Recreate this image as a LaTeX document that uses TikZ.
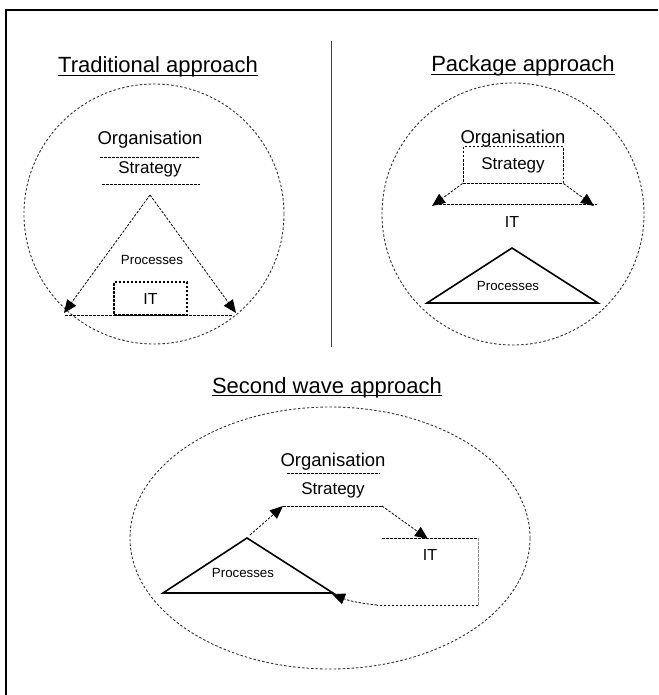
\documentclass[tikz,border=0pt]{standalone}
\usepackage{fontspec}
\setmainfont{Liberation Sans}
\usetikzlibrary{arrows.meta,shapes.geometric}
\begin{document}
\begin{tikzpicture}[x=1pt,y=-1pt,
  title/.style={font=\fontsize{22}{24}\selectfont, inner sep=0pt, anchor=base},
  orgtext/.style={font=\fontsize{18.5}{20}\selectfont, inner sep=1pt},
  strtext/.style={font=\fontsize{17}{19}\selectfont, inner sep=1pt},
  proctext/.style={font=\fontsize{13.3}{15}\selectfont, inner sep=1pt},
  ittext/.style={font=\fontsize{16}{18}\selectfont, inner sep=1pt},
  boundary/.style={draw=black!80, line width=0.9pt, dash pattern=on 2.5pt off 2pt},
  dline/.style={draw=black, line width=0.8pt, dash pattern=on 2.5pt off 1.5pt},
  darrow/.style={dline, -{Triangle[length=13pt,width=11pt]}},
  solidtri/.style={draw=black, line width=1.6pt, line join=miter},
  ulined/.style={draw=black, line width=1pt}
]
\useasboundingbox (0,0) rectangle (658,695);

% frame: top and left rules, divider between the two upper panels
\draw[line width=2pt] (6,695) -- (6,10) -- (658,10);
\draw[line width=1pt, black!75] (331,41) -- (331,347);

% ---------------- Traditional approach ----------------
\node[title] (ttitle) at (158,73) {Traditional approach};
\draw[ulined] ([yshift=-2.5pt]ttitle.base west) -- ([yshift=-2.5pt]ttitle.base east);
\node[circle, boundary, minimum size=260pt, inner sep=0pt] (tcirc) at (154,214) {};
\node[orgtext] (torg) at (150,140) {Organisation};
\draw[dline] (100,157) -- (200,157);
\node[strtext] (tstr) at (150,169) {Strategy};
\draw[dline] (102,184) -- (200,184);
\coordinate (tapex) at (150,195);
\coordinate (tleft) at (64,313);
\coordinate (tright) at (236,313);
\draw[darrow] (tapex) -- (tleft);
\draw[darrow] (tapex) -- (tright);
\draw[dline] (65,315) -- (233,315);
\node[proctext] (tproc) at (152,260) {Processes};
\node[draw=black, line width=1.2pt, dash pattern=on 2.5pt off 1.5pt,
      minimum width=73pt, minimum height=33pt, inner sep=0pt] (tit) at (150.5,298.5) {};
\node[ittext] at (tit) {IT};

% ---------------- Package approach ----------------
\node[title] (ptitle) at (523,72) {Package approach};
\draw[ulined] ([yshift=-2.5pt]ptitle.base west) -- ([yshift=-2.5pt]ptitle.base east);
\node[circle, boundary, minimum size=262pt, inner sep=0pt] (pcirc) at (513,214) {};
\node[orgtext] (porg) at (513,139) {Organisation};
\node[draw=black, line width=1pt, dash pattern=on 2.5pt off 1.5pt,
      minimum width=100pt, minimum height=36pt, inner sep=0pt] (pstrbox) at (513,165) {};
\node[strtext] (pstr) at (pstrbox) {Strategy};
\coordinate (pleft) at (432,206);
\coordinate (pright) at (594,206);
\draw[darrow] (pstrbox.south west) -- (pleft);
\draw[darrow] (pstrbox.south east) -- (pright);
\draw[dline] (435,204) -- (597,204);
\node[ittext] (pit) at (512,222) {IT};
\coordinate (papex) at (512,248);
\coordinate (pbl) at (427,303);
\coordinate (pbr) at (598,303);
\draw[solidtri] (papex) -- (pbr) -- (pbl) -- cycle;
\node[proctext] (pproc) at (508,286) {Processes};

% ---------------- Second wave approach ----------------
\node[title] (stitle) at (327,393) {Second wave approach};
\draw[ulined] ([yshift=-2.5pt]stitle.base west) -- ([yshift=-2.5pt]stitle.base east);
\node[ellipse, boundary, minimum width=400pt, minimum height=262pt, inner sep=0pt] (sell) at (330,538) {};
\node[orgtext] (sorg) at (333,462) {Organisation};
\draw[dline] (287,473) -- (380,473);
\node[strtext] (sstr) at (333,490) {Strategy};
\coordinate (sstrl) at (283,506);
\coordinate (sstrr) at (382,506);
\coordinate (sitarrow) at (428,539);
\draw[dline] (sstrl) -- (sstrr);
\draw[darrow] (sstrr) -- (sitarrow);
\coordinate (sapex) at (247,538);
\coordinate (sbl) at (163,593);
\coordinate (sbr) at (333,593);
\draw[solidtri] (sapex) -- (sbr) -- (sbl) -- cycle;
\node[proctext] (sproc) at (243,573) {Processes};
\draw[darrow] (250,535) -- (sstrl);
% IT area, open on its left side
\coordinate (sittl) at (382,538);
\coordinate (sittr) at (478,538);
\coordinate (sitbr) at (478,605);
\coordinate (sitbl) at (377,605);
\draw[dline] (sittl) -- (sittr);
\draw[dline, black!45] (sittr) -- (sitbr);
\draw[dline] (sitbr) -- (sitbl);
\draw[darrow] (sitbl) to[bend left=8] (332,594);
\node[ittext] (sit) at (430,555) {IT};
\end{tikzpicture}
\end{document}
